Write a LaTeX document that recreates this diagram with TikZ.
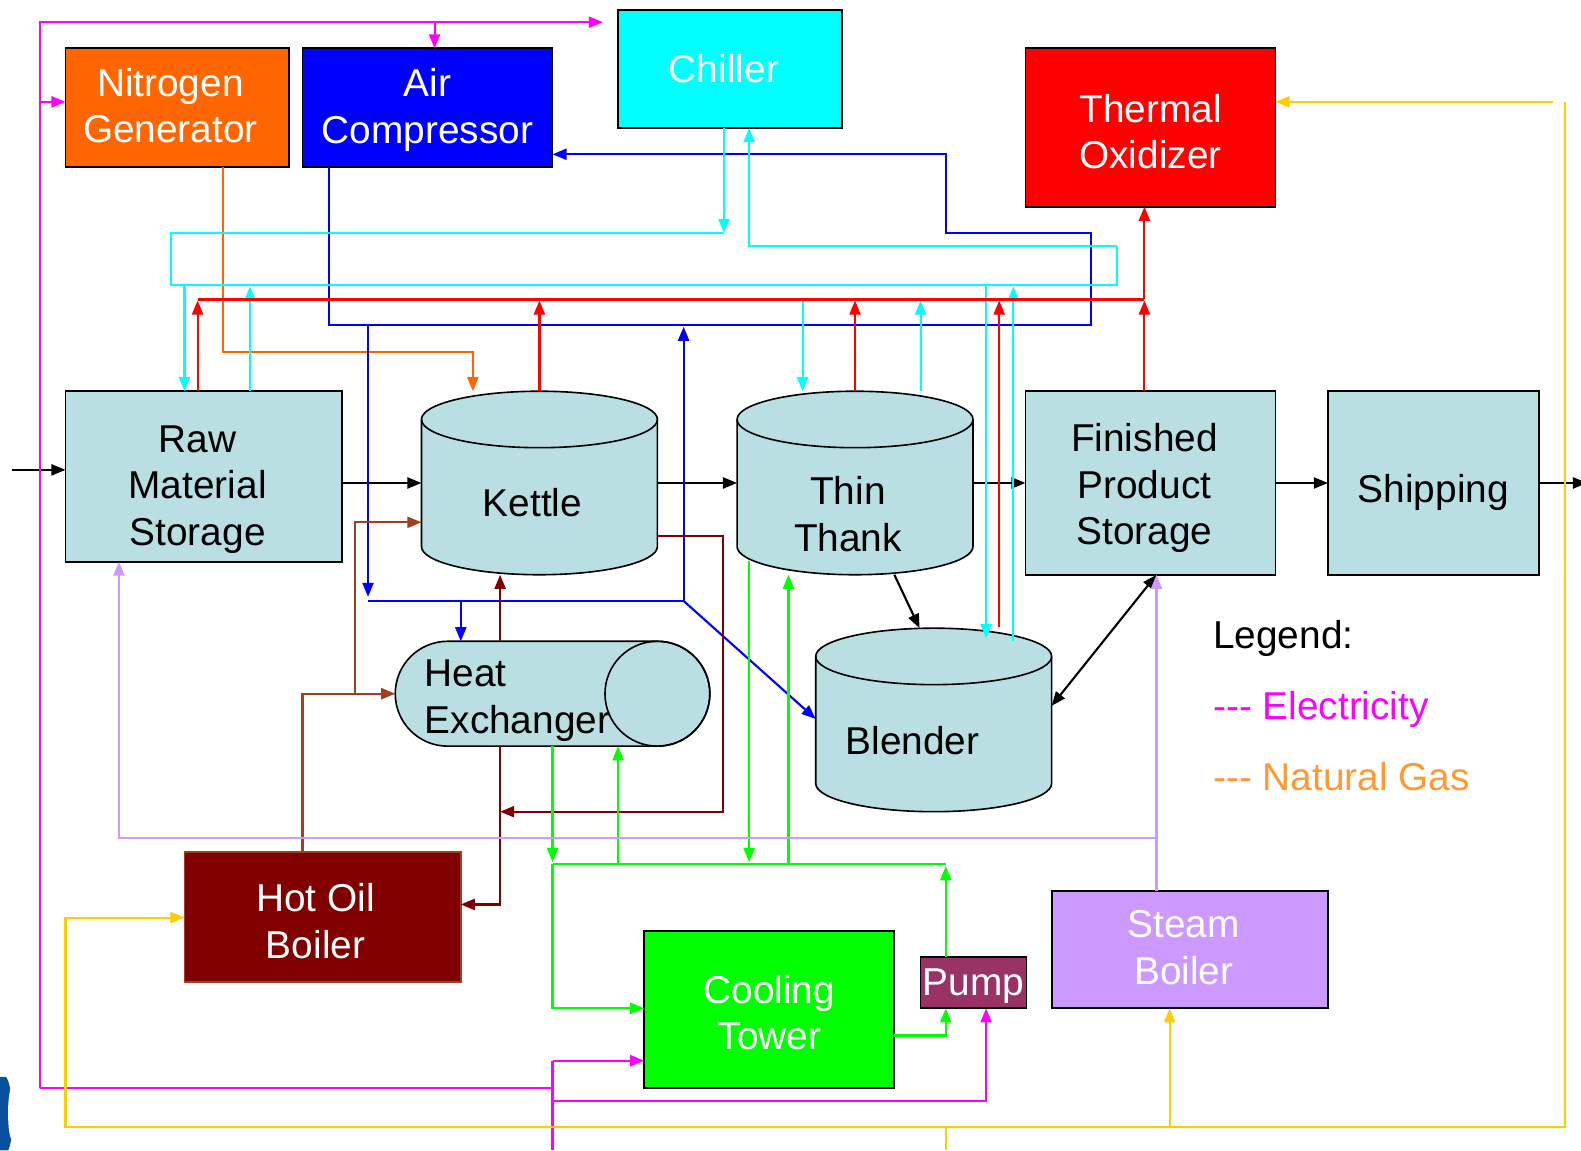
\documentclass[tikz,border=0pt]{standalone}
\usepackage{fontspec}
\setmainfont{Liberation Sans}
\usetikzlibrary{arrows.meta}
\definecolor{lbg}{HTML}{B9DFE2}
\definecolor{cOrange}{HTML}{FF6600}
\definecolor{cBlue}{HTML}{0000FF}
\definecolor{cCyan}{HTML}{00FFFF}
\definecolor{cRed}{HTML}{FF0000}
\definecolor{cDRed}{HTML}{800000}
\definecolor{cBrown}{HTML}{A0401E}
\definecolor{cGreen}{HTML}{00FF00}
\definecolor{cPump}{HTML}{993366}
\definecolor{cSteam}{HTML}{CC99FF}
\definecolor{cMag}{HTML}{FF00FF}
\definecolor{cYel}{HTML}{FFCC00}
\definecolor{cGas}{HTML}{FF9933}
\definecolor{cLogo}{HTML}{0B4F9F}
\begin{document}
\begin{tikzpicture}[x=1pt,y=1pt,
  arr/.style={-{Triangle[length=14pt,width=11pt]}},
  dbl/.style={{Triangle[length=14pt,width=11pt]}-{Triangle[length=14pt,width=11pt]}},
  conn/.style={line width=2.1pt},
  blk/.style={conn,black},
  mag/.style={conn,cMag},
  yel/.style={conn,cYel},
  orng/.style={conn,cOrange},
  blu/.style={conn,cBlue},
  cyn/.style={conn,cCyan},
  rd/.style={conn,cRed},
  drd/.style={conn,cDRed},
  brn/.style={conn,cBrown},
  grn/.style={conn,cGreen},
  lav/.style={conn,cSteam},
  bigfont/.style={font=\fontsize{38.5}{46}\selectfont},
  box/.style={draw=black,line width=1.8pt,anchor=north west,inner sep=0pt,outer sep=0pt},
  ghost/.style={draw=none,anchor=north west,inner sep=0pt,outer sep=0pt},
  cylfill/.style={fill=lbg,draw=black,line width=1.6pt},
  cylline/.style={draw=black,line width=1.6pt},
  txt/.style={inner sep=0pt,bigfont,align=center}
]
\useasboundingbox (0,0) rectangle (1568,-1141);
\fill[white] (0,0) rectangle (1568,-1141);

% logo fragment
\fill[cLogo] (0,-1068) -- (6,-1068) .. controls (14,-1078) and (14,-1132) .. (8,-1141) -- (0,-1141) -- cycle;
\fill[white] (12,-1104) ellipse [x radius=4, y radius=26];

% boxes
\node[box,fill=cOrange,minimum width=222pt,minimum height=118pt] (nitro) at (65,-48) {};
\node[box,fill=cBlue,minimum width=248pt,minimum height=118pt] (air) at (300,-48) {};
\node[box,fill=cCyan,minimum width=222pt,minimum height=117pt] (chill) at (613,-10) {};
\node[box,fill=cRed,minimum width=248pt,minimum height=157pt] (therm) at (1017,-48) {};
\node[box,fill=lbg,minimum width=274pt,minimum height=169pt] (raw) at (65,-388) {};
\node[box,fill=lbg,minimum width=248pt,minimum height=182pt] (fin) at (1017,-388) {};
\node[box,fill=lbg,minimum width=209pt,minimum height=182pt] (ship) at (1317,-388) {};
\node[box,fill=cDRed,draw=cBrown,minimum width=274pt,minimum height=129pt] (hot) at (183,-845) {};
\node[box,fill=cGreen,minimum width=248pt,minimum height=156pt] (cool) at (639,-923) {};
\node[box,fill=cPump,minimum width=105pt,minimum height=51pt] (pump) at (913,-949) {};
\node[box,fill=cSteam,minimum width=274pt,minimum height=116pt] (steam) at (1043,-884) {};

\node[txt,text=white] (nitroT) at (169,-105) {Nitrogen\\Generator};
\node[txt,text=white] (airT) at (424,-109) {Air\\Compressor};
\node[txt,text=white] (chillT) at (718,-68.5) {Chiller};
\node[txt,text=white] (thermT) at (1141,-130.5) {Thermal\\Oxidizer};
\node[txt] (rawT) at (196,-485.5) {Raw\\Material\\Storage};
\node[txt] (finT) at (1135,-484) {Finished\\Product\\Storage};
\node[txt] (shipT) at (1421.5,-488) {Shipping};
\node[txt,text=white] (hotT) at (313,-913.5) {Hot Oil\\Boiler};
\node[txt,text=white] (coolT) at (763,-1004) {Cooling\\Tower};
\node[txt,text=white] (pumpT) at (965.5,-978.5) {Pump};
\node[txt,text=white] (steamT) at (1174,-940) {Steam\\Boiler};

% cylinders (named frames)
\node[ghost,minimum width=234pt,minimum height=182pt] (kettle) at (418,-388) {};
\node[ghost,minimum width=234pt,minimum height=182pt] (thin) at (731,-388) {};
\node[ghost,minimum width=234pt,minimum height=182pt] (blend) at (809,-623) {};
\node[ghost,minimum width=312pt,minimum height=104pt] (hx) at (392,-636) {};

\path[cylfill] (418,-416) -- (418,-542) arc[start angle=180,end angle=360,x radius=117,y radius=28] -- (652,-416) arc[start angle=0,end angle=180,x radius=117,y radius=28] -- cycle;
\draw[cylline] (418,-416) arc[start angle=180,end angle=360,x radius=117,y radius=28];
\path[cylfill] (731,-416) -- (731,-542) arc[start angle=180,end angle=360,x radius=117,y radius=28] -- (965,-416) arc[start angle=0,end angle=180,x radius=117,y radius=28] -- cycle;
\draw[cylline] (731,-416) arc[start angle=180,end angle=360,x radius=117,y radius=28];
\path[cylfill] (809,-651) -- (809,-777) arc[start angle=180,end angle=360,x radius=117,y radius=28] -- (1043,-651) arc[start angle=0,end angle=180,x radius=117,y radius=28] -- cycle;
\draw[cylline] (809,-651) arc[start angle=180,end angle=360,x radius=117,y radius=28];
\path[cylfill] (444,-636) -- (652,-636) arc[start angle=90,end angle=-90,radius=52] -- (444,-740) arc[start angle=270,end angle=90,radius=52] -- cycle;
\draw[cylline] (652,-688) circle[radius=52];

\node[txt] (kettleT) at (528,-498) {Kettle};
\node[txt] (thinT) at (841,-510) {Thin\\Thank};
\node[txt] (blendT) at (905,-735) {Blender};
\node[txt,anchor=west,align=left] (hxT) at (421,-695) {Heat\\Exchanger};

% legend
\node[txt,anchor=west] (leg) at (1203,-633) {Legend:};
\node[txt,anchor=west,text=cMag] (legE) at (1203,-704) {-{}-{}- Electricity};
\node[txt,anchor=west,text=cGas] (legG) at (1203,-770) {-{}-{}- Natural Gas};

% ---- black product flow
\coordinate (inS) at (12,-466);
\coordinate (outE) at (1574,-479);
\draw[blk,arr] (inS) -- (raw.west |- inS);
\draw[blk,arr] (raw.east |- 0,-479) -- (kettle.west |- 0,-479);
\draw[blk,arr] (kettle.east |- 0,-479) -- (thin.west |- 0,-479);
\draw[blk,arr] (thin.east |- 0,-479) -- (fin.west |- 0,-479);
\draw[blk,arr] (fin.east |- 0,-479) -- (ship.west |- 0,-479);
\draw[blk,arr] (ship.east |- 0,-479) -- (outE);
\draw[blk,arr] (thin.south -| 887,0) -- (blend.north -| 912,0);
\draw[blk,dbl] (blend.east |- 0,-700) -- (fin.south -| 1147,0);

% ---- magenta electricity
\draw[mag,arr] (40,-1079) -- (40,-22) -- ([xshift=-15pt]chill.west |- 0,-22);
\draw[mag,arr] (431,-22) -- (air.north -| 431,0);
\draw[mag,arr] (40,-101) -- (nitro.west |- 0,-101);
\draw[mag] (40,-1079) -- (548,-1079);
\draw[mag] (548,-1141) -- (548,-1052);
\draw[mag,arr] (548,-1052) -- (cool.west |- 0,-1052);
\draw[mag,arr] (548,-1092) -| (pump.south -| 978,0);

% ---- yellow natural gas
\draw[yel,arr] (1540,-101) -- (therm.east |- 0,-101);
\draw[yel,arr] (1552,-101) |- (65,-1118) |- (hot.west |- 0,-910);
\draw[yel,arr] (1160,-1118) -- (steam.south -| 1160,0);
\draw[yel] (938,-1118) -- (938,-1141);

% ---- orange nitrogen
\draw[orng,arr] (nitro.south -| 221,0) |- (469,-349) -- (kettle.north -| 469,0);

% ---- blue compressed air
\draw[blu,arr] (air.south -| 326,0) |- (1082,-322) |- (938,-231) |- (air.east |- 0,-153);
\draw[blu,arr] (365,-322) -- (365,-592);
\draw[blu] (365,-596) -- (678,-596);
\draw[blu,arr] (678,-596) -- (678,-324);
\draw[blu,arr] (457,-596) -- (hx.north -| 457,0);
\draw[blu,arr] (678,-596) -- (blend.west |- 0,-713);

% ---- cyan chilled water
\draw[cyn,arr] (chill.south -| 718,0) -- (718,-231);
\draw[cyn] (718,-231) -| (170,-283) -| (1108,-244);
\draw[cyn,arr] (1108,-244) -| (chill.south -| 743,0);
\draw[cyn,arr] (183,-283) -- (raw.north -| 183,0);
\draw[cyn,arr] (raw.north -| 248,0) -- (248,-284);
\draw[cyn,arr] (796,-297) -- (thin.north -| 796,0);
\draw[cyn,arr] (thin.north -| 913,0) -- (913,-298);
\draw[cyn,arr] (978,-283) -- (978,-633);
\draw[cyn,arr] (1005,-636) -- (1005,-284);

% ---- red vents to oxidizer
\draw[rd] (196,-297) -- (1135,-297);
\draw[rd,arr] (1135,-297) -- (therm.south -| 1135,0);
\draw[rd,arr] (raw.north -| 196,0) -- (196,-298);
\draw[rd,arr] (kettle.north -| 535,0) -- (535,-298);
\draw[rd,arr] (thin.north -| 848,0) -- (848,-298);
\draw[rd,arr] (991,-622) -- (991,-298);
\draw[rd,arr] (fin.north -| 1135,0) -- (1135,-298);

% ---- hot oil
\draw[drd,arr] (hx.south -| 496,0) |- (hot.east |- 0,-897);
\draw[drd,arr] (kettle.east |- 0,-532) -| (717,-805) -- (496,-805);
\draw[drd,arr] (hx.north -| 496,0) -- (496,-570);
\draw[brn,arr] (hot.north -| 300,0) |- (hx.west |- 0,-688);
\draw[brn,arr] (352,-688) |- (kettle.west |- 0,-518);

% ---- green cooling water
\draw[grn,arr] (hx.south -| 548,0) -- (548,-855);
\draw[grn,arr] (548,-857) |- (cool.west |- 0,-1000);
\draw[grn] (548,-857) -- (938,-857);
\draw[grn,arr] (pump.north -| 938,0) -- (938,-859);
\draw[grn,arr] (613,-857) -- (hx.south -| 613,0);
\draw[grn,arr] (743,-556) -- (743,-855);
\draw[grn,arr] (782,-857) -- (782,-570);
\draw[grn,arr] (cool.east |- 0,-1027) -| (pump.south -| 938,0);

% ---- lavender steam
\draw[lav,arr] (steam.north -| 1147,0) |- (118,-831) -- (raw.south -| 118,0);
\draw[lav,arr] (1147,-831) -- (fin.south -| 1147,0);
\end{tikzpicture}
\end{document}
